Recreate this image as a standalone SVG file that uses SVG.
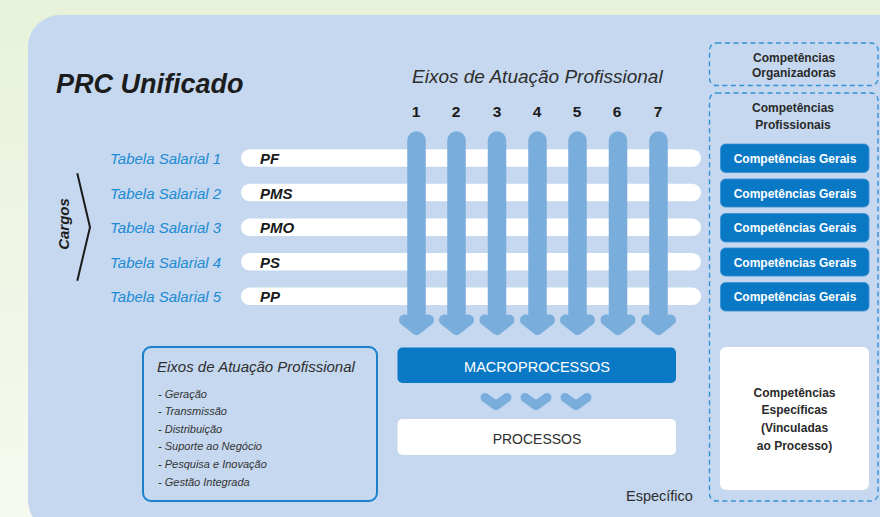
<svg xmlns="http://www.w3.org/2000/svg" width="880" height="517" viewBox="0 0 880 517">
<defs>
<linearGradient id="bg" x1="0" y1="0" x2="0" y2="1">
<stop offset="0" stop-color="#e8f2da"/>
<stop offset="1" stop-color="#f6f9f0"/>
</linearGradient>
<style>
.t{font-family:"Liberation Sans",Arial,sans-serif}
.tab{font-family:"Liberation Sans",Arial,sans-serif;font-style:italic;font-size:15px;fill:#1d8bd3}
.code{font-family:"Liberation Sans",Arial,sans-serif;font-style:italic;font-weight:bold;font-size:15px;fill:#1a1a1a}
.bar{fill:#ffffff}
.shaft{stroke:#79addc;stroke-width:18.5;stroke-linecap:round;fill:none}
.head{stroke:#79addc;stroke-width:11;stroke-linecap:round;stroke-linejoin:round;fill:none}
.small{stroke:#79addc;stroke-width:9;stroke-linecap:round;stroke-linejoin:round;fill:none}
.num{font-family:"Liberation Sans",Arial,sans-serif;font-weight:bold;font-size:15.5px;fill:#1a1a1a;text-anchor:middle}
.gbox{fill:#0a79c5;stroke:#3a8fd3;stroke-width:0.8}
.gtxt{font-family:"Liberation Sans",Arial,sans-serif;font-weight:bold;font-size:12px;fill:#ffffff;text-anchor:middle}
.dash{fill:none;stroke:#3592d5;stroke-width:1.4;stroke-dasharray:5 3.5}
.comp{font-family:"Liberation Sans",Arial,sans-serif;font-weight:bold;font-size:12px;fill:#2a2a2a;text-anchor:middle}
.li{font-family:"Liberation Sans",Arial,sans-serif;font-style:italic;font-size:11px;fill:#333333}
</style>
</defs>
<rect x="0" y="0" width="880" height="517" fill="url(#bg)"/>
<rect id="panel" x="28" y="15" width="900" height="517" rx="32" fill="#c5d8ef"/>

<g id="title">
<text class="t" x="56" y="93" font-size="27" font-weight="bold" font-style="italic" fill="#1c1c1c">PRC Unificado</text>
</g>

<g id="eixos-header">
<text class="t" x="412" y="83" font-size="19" font-style="italic" fill="#2e2e2e">Eixos de Atuação Profissional</text>
<text class="num" x="416" y="117">1</text>
<text class="num" x="456" y="117">2</text>
<text class="num" x="497" y="117">3</text>
<text class="num" x="537" y="117">4</text>
<text class="num" x="577" y="117">5</text>
<text class="num" x="617" y="117">6</text>
<text class="num" x="658" y="117">7</text>
</g>

<g id="cargos">
<text class="t" transform="translate(69,224) rotate(-90)" text-anchor="middle" font-size="15" font-weight="bold" font-style="italic" fill="#1c1c1c">Cargos</text>
<polyline points="77.3,173.3 90,227.3 77.3,280.7" fill="none" stroke="#1c1c1c" stroke-width="2"/>
</g>

<g id="rows">
<g id="row1"><rect class="bar" x="241" y="149.3" width="460" height="17.5" rx="8.75"/><text class="tab" x="110" y="164">Tabela Salarial 1</text><text class="code" x="260" y="164">PF</text></g>
<g id="row2"><rect class="bar" x="241" y="183.8" width="460" height="17.5" rx="8.75"/><text class="tab" x="110" y="198.5">Tabela Salarial 2</text><text class="code" x="260" y="198.5">PMS</text></g>
<g id="row3"><rect class="bar" x="241" y="218.5" width="460" height="17.5" rx="8.75"/><text class="tab" x="110" y="233">Tabela Salarial 3</text><text class="code" x="260" y="233">PMO</text></g>
<g id="row4"><rect class="bar" x="241" y="253" width="460" height="17.5" rx="8.75"/><text class="tab" x="110" y="267.5">Tabela Salarial 4</text><text class="code" x="260" y="267.5">PS</text></g>
<g id="row5"><rect class="bar" x="241" y="287.5" width="460" height="17.5" rx="8.75"/><text class="tab" x="110" y="302">Tabela Salarial 5</text><text class="code" x="260" y="302">PP</text></g>
</g>

<g id="connectors">
<g id="axis-arrows">
<line class="shaft" x1="416.5" y1="140.5" x2="416.5" y2="322"/><polyline class="head" points="404.5,320 416.5,329.5 428.5,320"/>
<line class="shaft" x1="456.5" y1="140.5" x2="456.5" y2="322"/><polyline class="head" points="444.5,320 456.5,329.5 468.5,320"/>
<line class="shaft" x1="497" y1="140.5" x2="497" y2="322"/><polyline class="head" points="485,320 497,329.5 509,320"/>
<line class="shaft" x1="537.5" y1="140.5" x2="537.5" y2="322"/><polyline class="head" points="525.5,320 537.5,329.5 549.5,320"/>
<line class="shaft" x1="577.5" y1="140.5" x2="577.5" y2="322"/><polyline class="head" points="565.5,320 577.5,329.5 589.5,320"/>
<line class="shaft" x1="618" y1="140.5" x2="618" y2="322"/><polyline class="head" points="606,320 618,329.5 630,320"/>
<line class="shaft" x1="658.5" y1="140.5" x2="658.5" y2="322"/><polyline class="head" points="646.5,320 658.5,329.5 670.5,320"/>
</g>
<g id="macro-arrows">
<polyline class="small" points="485,397.5 496,405.5 507,397.5"/>
<polyline class="small" points="525,397.5 536,405.5 547,397.5"/>
<polyline class="small" points="565,397.5 576,405.5 587,397.5"/>
</g>
</g>

<g id="macroprocessos">
<rect x="397.5" y="347.5" width="278.5" height="35.5" rx="5" fill="#0a79c5"/>
<text class="t" x="537" y="372" text-anchor="middle" font-size="14.5" fill="#ffffff">MACROPROCESSOS</text>
</g>
<g id="processos">
<rect x="397.5" y="419" width="278.5" height="36" rx="5" fill="#ffffff"/>
<text class="t" x="537" y="443.5" text-anchor="middle" font-size="14" fill="#2e2e2e">PROCESSOS</text>
</g>

<g id="eixos-box">
<rect x="143" y="347" width="234" height="154" rx="8" fill="none" stroke="#1a80cc" stroke-width="2"/>
<text class="t" x="157" y="372" font-size="15" font-style="italic" fill="#2e2e2e">Eixos de Atuação Profissional</text>
<text class="li" x="158" y="397.5">- Geração</text>
<text class="li" x="158" y="415">- Transmissão</text>
<text class="li" x="158" y="432.5">- Distribuição</text>
<text class="li" x="158" y="450">- Suporte ao Negócio</text>
<text class="li" x="158" y="468">- Pesquisa e Inovação</text>
<text class="li" x="158" y="485.5">- Gestão Integrada</text>
</g>

<g id="comp-organizadoras">
<rect class="dash" x="709.5" y="43" width="168.5" height="42.5" rx="7"/>
<text class="comp" x="794" y="62">Competências</text>
<text class="comp" x="794" y="77">Organizadoras</text>
</g>

<g id="comp-profissionais">
<rect class="dash" x="709.5" y="93" width="168.5" height="408" rx="7"/>
<text class="comp" x="793" y="112">Competências</text>
<text class="comp" x="793" y="129">Profissionais</text>
</g>

<g id="comp-gerais">
<g id="cg1"><rect class="gbox" x="720.5" y="144" width="148.5" height="28.5" rx="5"/><text class="gtxt" x="795" y="162.5">Competências Gerais</text></g>
<g id="cg2"><rect class="gbox" x="720.5" y="179" width="148.5" height="28" rx="5"/><text class="gtxt" x="795" y="197.5">Competências Gerais</text></g>
<g id="cg3"><rect class="gbox" x="720.5" y="213.5" width="148.5" height="28.5" rx="5"/><text class="gtxt" x="795" y="232">Competências Gerais</text></g>
<g id="cg4"><rect class="gbox" x="720.5" y="248" width="148.5" height="28" rx="5"/><text class="gtxt" x="795" y="266.5">Competências Gerais</text></g>
<g id="cg5"><rect class="gbox" x="720.5" y="282.5" width="148.5" height="28.5" rx="5"/><text class="gtxt" x="795" y="301">Competências Gerais</text></g>
</g>

<g id="comp-especificas">
<rect x="720" y="347" width="149" height="143" rx="6" fill="#ffffff"/>
<text class="comp" x="794.5" y="397">Competências</text>
<text class="comp" x="794.5" y="414">Específicas</text>
<text class="comp" x="794.5" y="432">(Vinculadas</text>
<text class="comp" x="794.5" y="449.5">ao Processo)</text>
</g>

<g id="especifico">
<text class="t" x="626" y="501" font-size="14.5" fill="#2e2e2e">Específico</text>
</g>
</svg>
